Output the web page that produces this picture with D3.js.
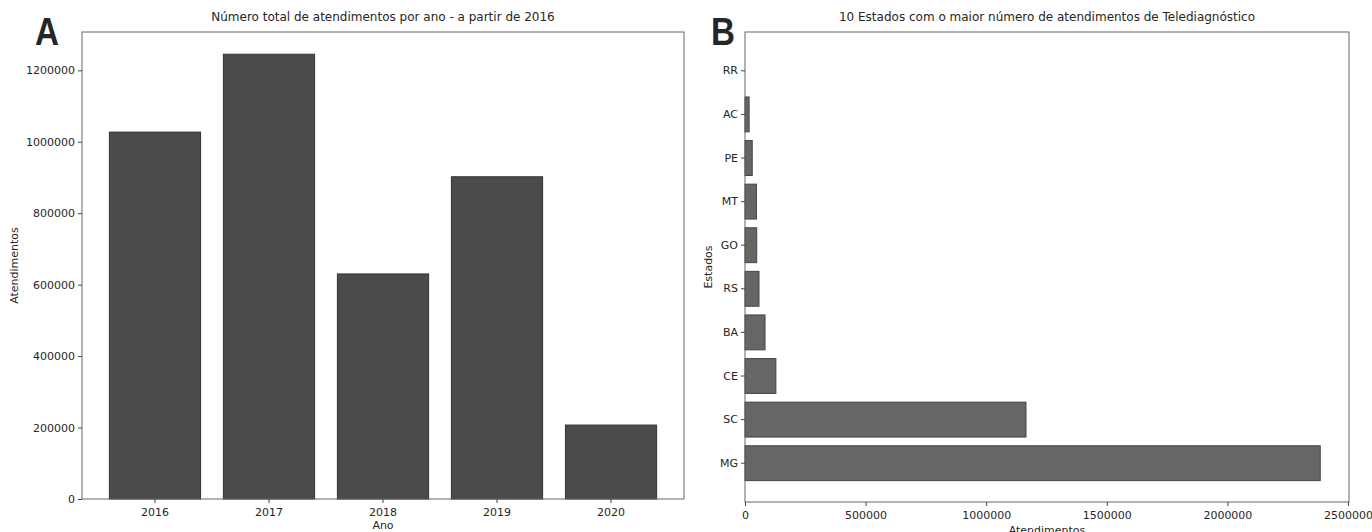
<!DOCTYPE html>
<html>
<head>
<meta charset="utf-8">
<script src="https://cdn.jsdelivr.net/npm/d3@7"></script>
<style>
    body { margin: 0; background: #fff; }
    svg text { font-family: "DejaVu Sans", sans-serif; fill: #262626; }
</style>
</head>
<body>
<div id="chart"></div>
<script>

// * * * data * * *
const years = ["2016", "2017", "2018", "2019", "2020"];
const totalByYear = [1027000, 1245000, 630000, 902000, 207000];
const yearTicks = [0, 200000, 400000, 600000, 800000, 1000000, 1200000];

// bottom to top, like the horizontal bars
const states = ["MG", "SC", "CE", "BA", "RS", "GO", "MT", "PE", "AC", "RR"];
const statesTotal = [2385000, 1165000, 128000, 83000, 58000, 48500, 47500, 30000, 17000, 0];
const stateTicks = [0, 500000, 1000000, 1500000, 2000000, 2500000];

const width = 1372, height = 532;

let svg = d3.select("#chart").append("svg")
    .attr("width", width)
    .attr("height", height);

// style a d3 axis like matplotlib's
function styleAxis(g) {
    g.select(".domain").remove();
    g.selectAll(".tick line").attr("stroke", "#444");
    g.selectAll(".tick text")
        .style("font-family", "DejaVu Sans, sans-serif")
        .style("font-size", "11px")
        .attr("fill", "#262626");
}

function frame(box) {
    svg.append("rect")
        .attr("x", box.x0)
        .attr("y", box.y0)
        .attr("width", box.x1 - box.x0)
        .attr("height", box.y1 - box.y0)
        .attr("fill", "none")
        .attr("stroke", "#666")
        .attr("stroke-width", 1);
}

function panelLetter(txt, x) {
    svg.append("text")
        .attr("x", x)
        .attr("y", 45)
        .style("font-family", "Liberation Sans, Arial, sans-serif")
        .style("font-weight", "bold")
        .style("font-size", "38px")
        .attr("fill", "#000")
        .attr("textLength", 24)
        .attr("lengthAdjust", "spacingAndGlyphs")
        .text(txt);
}

/* * * * * * * * * * * * * *
*     A: bars per year     *
* * * * * * * * * * * * * */
let boxA = {x0: 82, x1: 684, y0: 32, y1: 499};

let xA = d3.scaleBand()
    .domain(years)
    .range([boxA.x0, boxA.x1])
    .paddingInner(0.2)
    .paddingOuter(0.24);

let yA = d3.scaleLinear()
    .domain([0, d3.max(totalByYear) * 1.05])
    .range([boxA.y1, boxA.y0]);

svg.append("g")
    .selectAll("rect")
    .data(years)
    .enter().append("rect")
    .attr("x", d => xA(d))
    .attr("width", xA.bandwidth())
    .attr("y", (d, i) => yA(totalByYear[i]))
    .attr("height", (d, i) => yA(0) - yA(totalByYear[i]))
    .attr("fill", "#4b4b4b")
    .attr("stroke", "#333")
    .attr("stroke-width", 1);

frame(boxA);

svg.append("g")
    .attr("transform", `translate(0, ${boxA.y1})`)
    .call(d3.axisBottom(xA).tickSize(4).tickPadding(5))
    .call(styleAxis);

svg.append("g")
    .attr("transform", `translate(${boxA.x0}, 0)`)
    .call(d3.axisLeft(yA).tickValues(yearTicks).tickFormat(d3.format("d")).tickSize(4).tickPadding(3))
    .call(styleAxis);

svg.append("text")
    .attr("x", (boxA.x0 + boxA.x1) / 2)
    .attr("y", 21)
    .attr("text-anchor", "middle")
    .style("font-size", "12px")
    .text("Número total de atendimentos por ano - a partir de 2016");

svg.append("text")
    .attr("x", (boxA.x0 + boxA.x1) / 2)
    .attr("y", 529)
    .attr("text-anchor", "middle")
    .style("font-size", "11px")
    .text("Ano");

svg.append("text")
    .attr("transform", `translate(18, ${(boxA.y0 + boxA.y1) / 2}) rotate(-90)`)
    .attr("text-anchor", "middle")
    .style("font-size", "11px")
    .text("Atendimentos");

panelLetter("A", 35);

/* * * * * * * * * * * * * *
*     B: top 10 states     *
* * * * * * * * * * * * * */
let boxB = {x0: 745, x1: 1349, y0: 32, y1: 502};

let xB = d3.scaleLinear()
    .domain([0, d3.max(statesTotal) * 1.05])
    .range([boxB.x0, boxB.x1]);

// first state sits at the bottom
let yB = d3.scaleBand()
    .domain(states)
    .range([boxB.y1, boxB.y0])
    .paddingInner(0.2)
    .paddingOuter(0.49);

svg.append("g")
    .selectAll("rect")
    .data(states.filter((d, i) => statesTotal[i] > 0))
    .enter().append("rect")
    .attr("x", xB(0))
    .attr("y", d => yB(d))
    .attr("height", yB.bandwidth())
    .attr("width", d => xB(statesTotal[states.indexOf(d)]) - xB(0))
    .attr("fill", "#666")
    .attr("stroke", "#444")
    .attr("stroke-width", 1);

frame(boxB);

svg.append("g")
    .attr("transform", `translate(0, ${boxB.y1})`)
    .call(d3.axisBottom(xB).tickValues(stateTicks).tickFormat(d3.format("d")).tickSize(4).tickPadding(5))
    .call(styleAxis);

svg.append("g")
    .attr("transform", `translate(${boxB.x0}, 0)`)
    .call(d3.axisLeft(yB).tickSize(4).tickPadding(3))
    .call(styleAxis);

svg.append("text")
    .attr("x", (boxB.x0 + boxB.x1) / 2)
    .attr("y", 21)
    .attr("text-anchor", "middle")
    .style("font-size", "12px")
    .text("10 Estados com o maior número de atendimentos de Telediagnóstico");

// cut by the bottom edge, as in the original picture
svg.append("text")
    .attr("x", (boxB.x0 + boxB.x1) / 2)
    .attr("y", 534)
    .attr("text-anchor", "middle")
    .style("font-size", "11px")
    .text("Atendimentos");

svg.append("text")
    .attr("transform", `translate(712, ${(boxB.y0 + boxB.y1) / 2}) rotate(-90)`)
    .attr("text-anchor", "middle")
    .style("font-size", "11px")
    .text("Estados");

panelLetter("B", 711);

</script>
</body>
</html>
